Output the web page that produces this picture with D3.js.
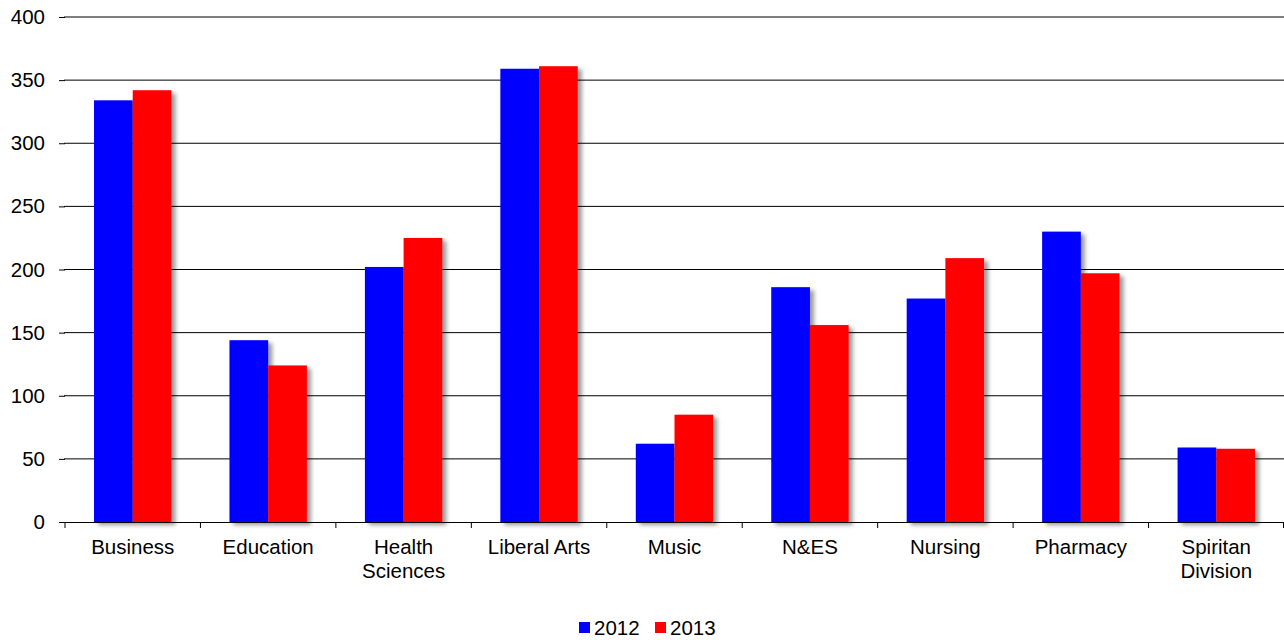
<!DOCTYPE html>
<html><head><meta charset="utf-8">
<script src="https://cdn.jsdelivr.net/npm/d3@7"></script>
<style>body{margin:0;background:#fff}svg{display:block;font-family:"Liberation Sans",Arial,sans-serif}</style>
</head><body><svg id="c" width="1284" height="640"></svg>
<script>
const categories = ["Business","Education","Health Sciences","Liberal Arts","Music","N&ES","Nursing","Pharmacy","Spiritan Division"];
const categoryLines = [["Business"],["Education"],["Health","Sciences"],["Liberal Arts"],["Music"],["N&ES"],["Nursing"],["Pharmacy"],["Spiritan","Division"]];
const seriesNames = ["2012","2013"];
const values2012 = [334,144,202,359,62,186,177,230,59];
const values2013 = [342,124,225,361,85,156,209,197,58];
const yTicks = [0,50,100,150,200,250,300,350,400];
const colors = ["#0000ff","#ff0000"];

(function(){
const FS = 20.5;
const svg = d3.select("#c");
const pl = 65, pr = 1284, pt = 17, pb = 522;
const x = d3.scaleBand().domain(categories).range([pl,pr]);
const y = d3.scaleLinear().domain([0,400]).range([pb,pt]);
const bw = x.bandwidth()/3.5;
const sub = d3.scaleBand().domain(seriesNames).range([0, 2*bw]);

const defs = svg.append("defs");
const f = defs.append("filter").attr("id","sh").attr("x","-20%").attr("y","-10%").attr("width","150%").attr("height","130%");
f.append("feDropShadow").attr("dx",4).attr("dy",3).attr("stdDeviation",2.2).attr("flood-color","#000").attr("flood-opacity",0.4);

svg.append("g").selectAll("line").data(yTicks.filter(d=>d>0)).join("line")
  .attr("x1",pl-1).attr("x2",pr).attr("y1",d=>y(d)).attr("y2",d=>y(d))
  .attr("stroke","#000").attr("stroke-width",1);

const ya = svg.append("g").attr("transform",`translate(${pl},0)`)
  .call(d3.axisLeft(y).tickValues(yTicks).tickSize(6).tickPadding(14));
ya.select(".domain").remove();
ya.selectAll(".tick line").attr("stroke","#000");
ya.selectAll("text").attr("font-size",FS).attr("fill","#000").attr("font-family","Liberation Sans, Arial, sans-serif");

const data = categories.map((c,i)=>({c, v:[values2012[i],values2013[i]]}));
const g = svg.append("g");
data.forEach(d=>{
  const x0 = x(d.c) + (x.bandwidth()-2*bw)/2;
  seriesNames.forEach((s,j)=>{
    g.append("rect").attr("x",x0+sub(s)).attr("y",y(d.v[j])).attr("width",sub.bandwidth())
     .attr("height",y(0)-y(d.v[j])).attr("fill",colors[j]).attr("filter","url(#sh)");
  });
});

svg.append("line").attr("x1",pl).attr("x2",pr).attr("y1",pb+0.5).attr("y2",pb+0.5).attr("stroke","#000");
const bounds = categories.map(c=>x(c)).concat([pr]);
svg.append("g").selectAll("line").data(bounds).join("line")
  .attr("x1",d=>Math.min(d,pr-0.5)).attr("x2",d=>Math.min(d,pr-0.5)).attr("y1",pb).attr("y2",pb+6).attr("stroke","#000");
svg.append("g").selectAll("text").data(categories).join("text")
  .attr("x",d=>x(d)+x.bandwidth()/2).attr("y",554).attr("text-anchor","middle")
  .attr("font-size",FS).attr("fill","#000")
  .each(function(d,i){
    const t=d3.select(this);
    categoryLines[i].forEach((l,k)=>t.append("tspan").attr("x",x(d)+x.bandwidth()/2).attr("dy",k?24:0).text(l));
  });

const lg = svg.append("g");
const lx = [579, 655];
seriesNames.forEach((s,j)=>{
  lg.append("rect").attr("x",lx[j]).attr("y",622).attr("width",11).attr("height",11).attr("fill",colors[j]);
  lg.append("text").attr("x",lx[j]+15).attr("y",635).attr("font-size",FS).attr("fill","#000").text(s);
});
})();
</script></body></html>
